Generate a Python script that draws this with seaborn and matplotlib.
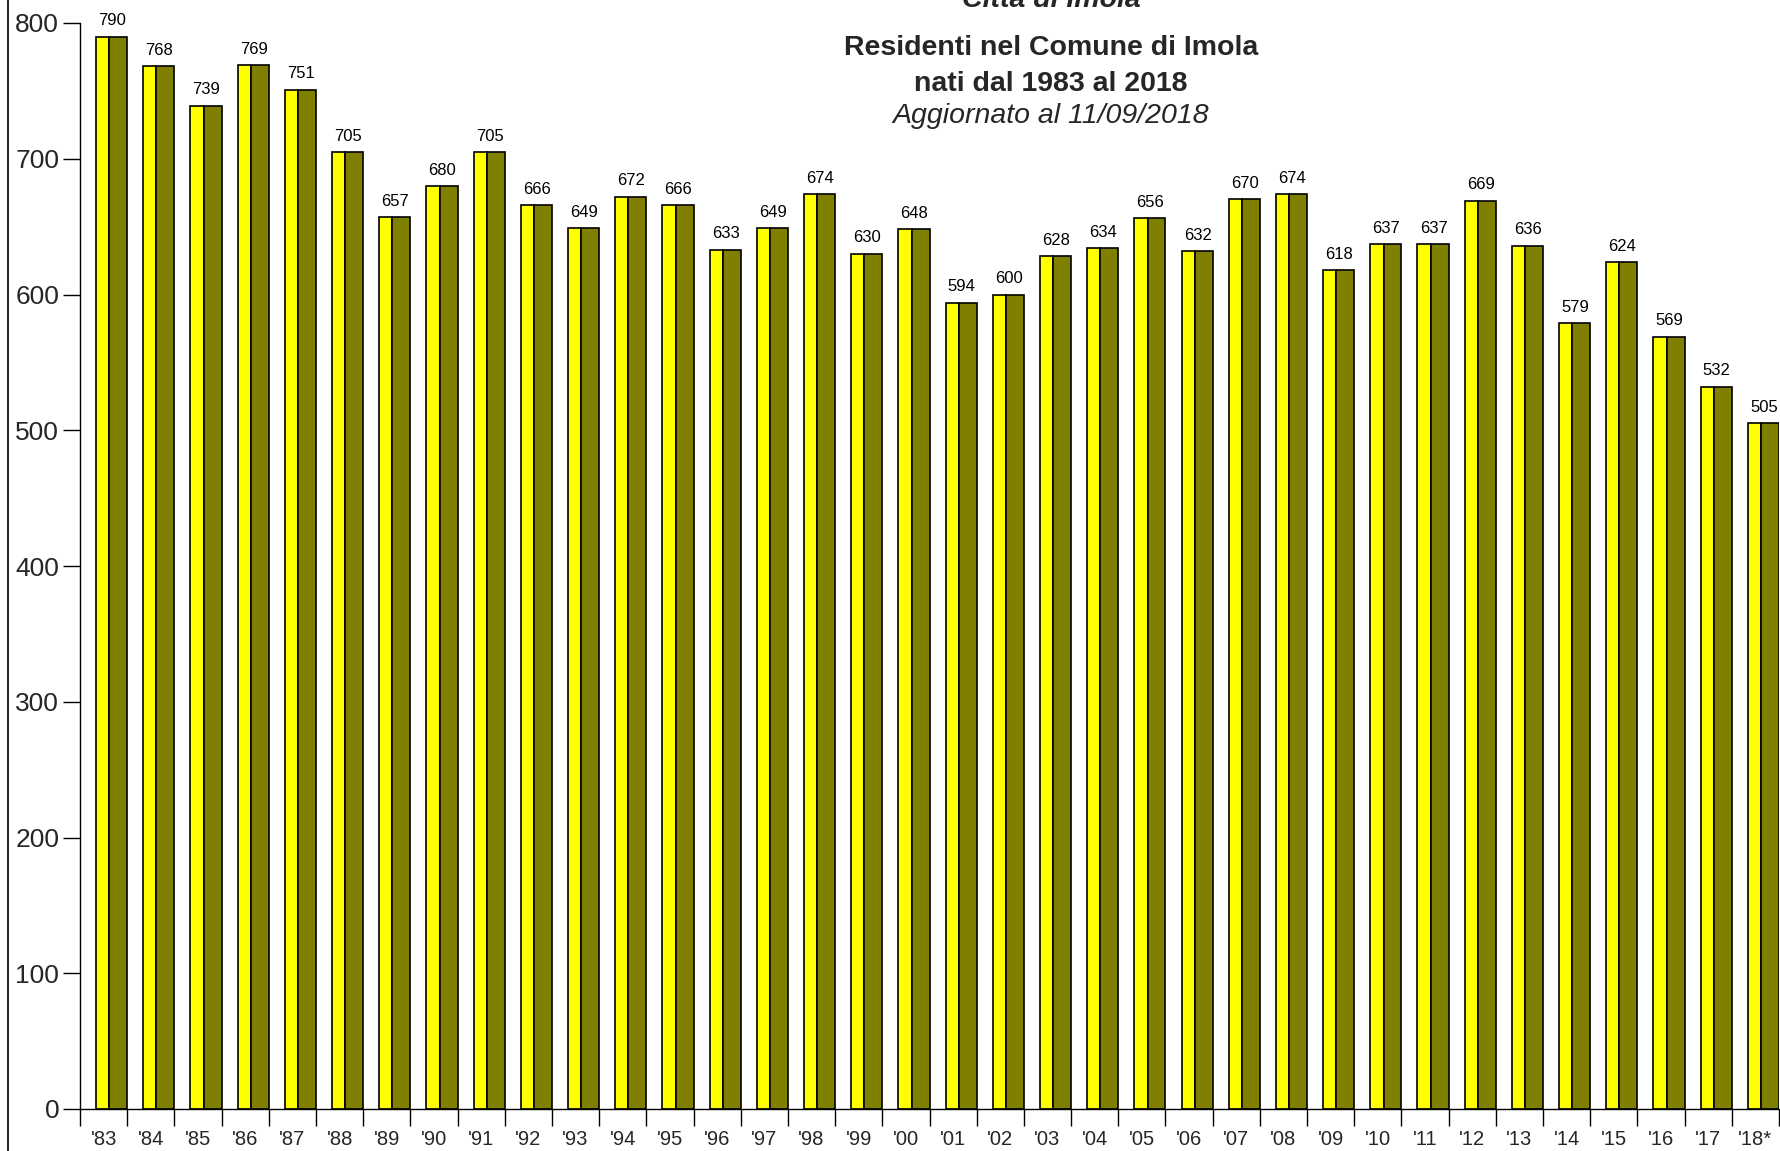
import numpy as np
import pandas as pd
import matplotlib
matplotlib.use("Agg")
import matplotlib.pyplot as plt
from matplotlib.lines import Line2D
import seaborn as sns

# ---- data ----
years = ["'83", "'84", "'85", "'86", "'87", "'88", "'89", "'90", "'91", "'92",
         "'93", "'94", "'95", "'96", "'97", "'98", "'99", "'00", "'01", "'02",
         "'03", "'04", "'05", "'06", "'07", "'08", "'09", "'10", "'11", "'12",
         "'13", "'14", "'15", "'16", "'17", "'18*"]
births = [790, 768, 739, 769, 751, 705, 657, 680, 705, 666,
          649, 672, 666, 633, 649, 674, 630, 648, 594, 600,
          628, 634, 656, 632, 670, 674, 618, 637, 637, 669,
          636, 579, 624, 569, 532, 505]
yticks = [0, 100, 200, 300, 400, 500, 600, 700, 800]
title_lines = ["Città di Imola", "Residenti nel Comune di Imola",
               "nati dal 1983 al 2018", "Aggiornato al 11/09/2018"]

sns.set_style("ticks")
plt.rcParams['font.family'] = ['Liberation Sans', 'DejaVu Sans']

W, H = 1780, 1151
fig = plt.figure(figsize=(W / 100, H / 100), dpi=100)
ax = fig.add_axes([80 / W, 1 - 1109 / H, (1779 - 80) / W, (1109 - 23) / H])

idx = np.arange(len(years))
df = pd.DataFrame({"pos": idx, "births": births, "year": years})

# front (yellow) and side (olive) faces of each bar
sns.barplot(x=df["pos"] - 0.02, y=df["births"], native_scale=True, width=0.28,
            color="#FFFF00", saturation=1, edgecolor="black", linewidth=1.2,
            ax=ax, errorbar=None)
sns.barplot(x=df["pos"] + 0.31, y=df["births"], native_scale=True, width=0.38,
            color="#808000", saturation=1, edgecolor="black", linewidth=1.2,
            ax=ax, errorbar=None)

for i, v in zip(idx, births):
    ax.annotate(str(v), (i + 0.18, v), xytext=(0, 6), textcoords="offset points",
                ha="center", va="bottom", fontsize=12, color="black",
                annotation_clip=False)

ax.set_xlim(-0.5, len(years) - 0.5)
ax.set_ylim(0, 800)
ax.set_yticks(yticks)
ax.set_yticklabels([str(t) for t in yticks])
ax.tick_params(axis="y", length=12, width=1, labelsize=19, pad=3, color="black")

ax.set_xticks(np.arange(len(years) + 1) - 0.5)
ax.set_xticklabels([])
ax.set_xticks(idx, minor=True)
ax.set_xticklabels(years, minor=True)
ax.tick_params(axis="x", which="major", length=12, width=1, color="black")
ax.tick_params(axis="x", which="minor", length=0, labelsize=14.5, pad=15)

ax.set_xlabel("")
ax.set_ylabel("")
sns.despine(ax=ax, top=True, right=True)
for s in ["left", "bottom"]:
    ax.spines[s].set_color("black")
    ax.spines[s].set_linewidth(1)

# titles
cx = 1051 / W
fig.text(cx, 1 - 7 / H, title_lines[0], ha="center", va="baseline",
         fontsize=20.5, fontweight="bold", fontstyle="italic")
fig.text(cx, 1 - 55 / H, title_lines[1], ha="center", va="baseline",
         fontsize=20.5, fontweight="bold")
fig.text(cx, 1 - 91 / H, title_lines[2], ha="center", va="baseline",
         fontsize=20.5, fontweight="bold")
fig.text(cx, 1 - 123 / H, title_lines[3], ha="center", va="baseline",
         fontsize=20.5, fontstyle="italic")

# left frame line
fig.add_artist(Line2D([7.5 / W, 7.5 / W], [0, 1], transform=fig.transFigure,
                      color="black", linewidth=1.2))

fig.savefig("out.png", dpi=100)
